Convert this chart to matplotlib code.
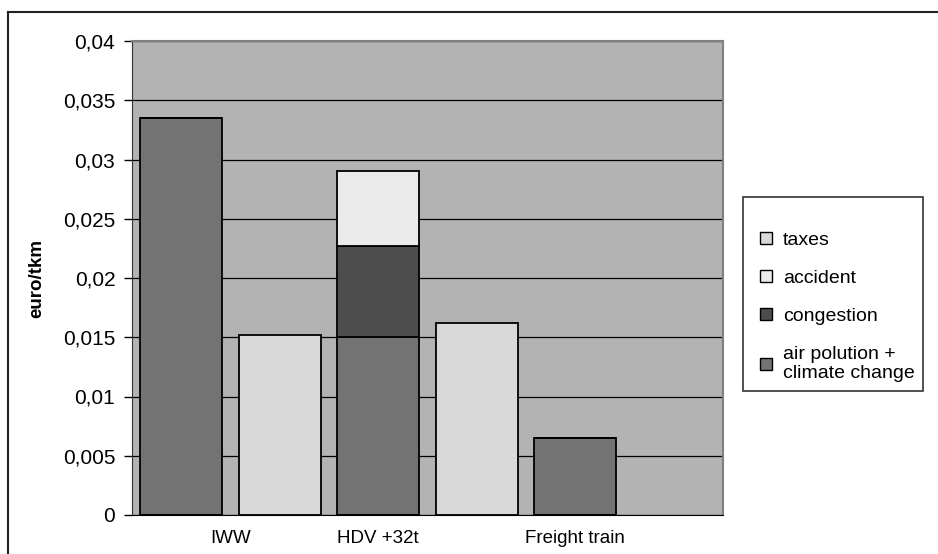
import matplotlib.pyplot as plt
from matplotlib.lines import Line2D

plt.rcParams['font.family'] = ['Liberation Sans', 'DejaVu Sans']

# one bar per slot, Excel style
slots = [0, 1, 2, 3, 4]
air = [0.0335, 0.0, 0.0150, 0.0, 0.0065]
congestion = [0.0, 0.0, 0.0077, 0.0, 0.0]
accident = [0.0, 0.0, 0.0063, 0.0, 0.0]
taxes = [0.0, 0.0152, 0.0, 0.0162, 0.0]

cat_pos = [0.5, 2, 4]
cat_labels = ['IWW', 'HDV +32t', 'Freight train']
yticks = [0, 0.005, 0.01, 0.015, 0.02, 0.025, 0.03, 0.035, 0.04]

c_air = '#737373'
c_cong = '#4d4d4d'
c_acc = '#ebebeb'
c_tax = '#d9d9d9'

fig = plt.figure(figsize=(9.38, 5.54), dpi=100)
ax = fig.add_axes([132 / 938, 1 - 515 / 554, (723 - 132) / 938, (515 - 41) / 554])
ax.set_facecolor('#b3b3b3')

w = 0.83
b2 = [a + c for a, c in zip(air, congestion)]
ax.bar(slots, air, w, color=c_air, edgecolor='black', linewidth=1.3, zorder=3)
ax.bar(slots, congestion, w, bottom=air, color=c_cong, edgecolor='black', linewidth=1.3, zorder=3)
ax.bar(slots, accident, w, bottom=b2, color=c_acc, edgecolor='black', linewidth=1.3, zorder=3)
ax.bar(slots, taxes, w, color=c_tax, edgecolor='black', linewidth=1.3, zorder=3)

ax.set_xlim(-0.5, 5.5)
ax.set_ylim(0, 0.04)
ax.set_yticks(yticks)
ax.set_yticklabels([('%g' % v).replace('.', ',') for v in yticks], fontsize=15)
ax.set_xticks(cat_pos)
ax.set_xticklabels(cat_labels, fontsize=13.5)
ax.tick_params(axis='x', length=0, pad=11)
ax.tick_params(axis='y', length=6, width=1, pad=6)
ax.yaxis.grid(True, color='black', linewidth=0.9, zorder=1)
ax.set_axisbelow(True)
ax.set_ylabel('euro/tkm', fontsize=13.5, fontweight='bold', labelpad=13)

for s in ['top', 'right']:
    ax.spines[s].set_color('#808080')
    ax.spines[s].set_linewidth(1.5)
ax.spines['left'].set_color('#333333')
ax.spines['bottom'].set_color('black')

names = ['taxes', 'accident', 'congestion', 'air polution +\nclimate change']
cols = [c_tax, c_acc, c_cong, c_air]
handles = [Line2D([], [], linestyle='none', marker='s', markersize=8.5,
                  markerfacecolor=c, markeredgecolor='black', markeredgewidth=1, label=n)
           for n, c in zip(names, cols)]
leg = fig.legend(handles=handles, loc='lower left', bbox_to_anchor=(743 / 938, 1 - 391 / 554),
                 fontsize=14, frameon=True, fancybox=False, labelspacing=1.05,
                 handlelength=1.5, handletextpad=0.1, borderpad=0.45,
                 borderaxespad=0, title=' ', title_fontsize=4)
leg.get_frame().set_edgecolor('black')
leg.get_frame().set_linewidth(1.2)

# outer chart frame (left and top edges)
fig.add_artist(Line2D([8 / 938, 8 / 938], [0, 1 - 12 / 554], color='#222222', linewidth=1.5))
fig.add_artist(Line2D([8 / 938, 1], [1 - 12 / 554, 1 - 12 / 554], color='#222222', linewidth=1.5))

fig.savefig('out.png', dpi=100)
